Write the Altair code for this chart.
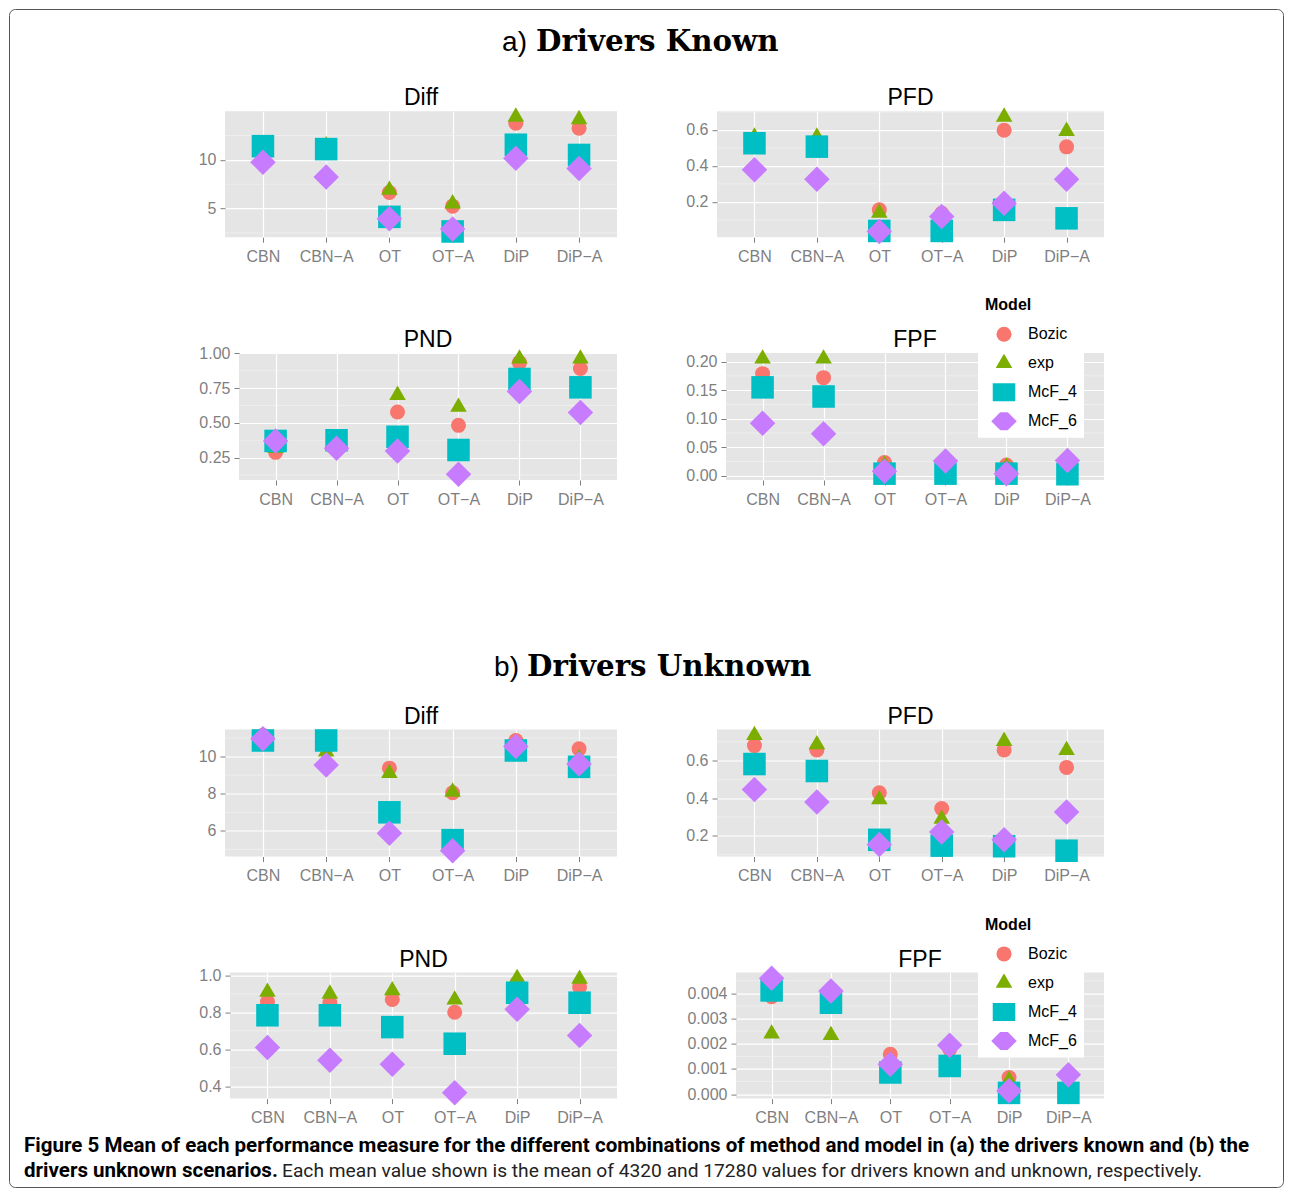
import altair as alt
import pandas as pd

METHODS = ["CBN", "CBN−A", "OT", "OT−A", "DiP", "DiP−A"]
MODELS = ["Bozic", "exp", "McF_4", "McF_6"]
COLORS = ["#F8766D", "#7CAE00", "#00BFC4", "#C77CFF"]
TRI = "M0,-1L0.866,0.5L-0.866,0.5Z"
SHAPES = ["circle", TRI, "square", "diamond"]
SIZES = [225, 650, 245, 324]

# ---- a) Drivers Known ----
A_DIFF = {
    "Bozic": [10.75, 10.75, 6.65, 5.25, 13.75, 13.25],
    "exp":   [11.5, 11.45, 6.9, 5.5, 14.4, 14.15],
    "McF_4": [11.4, 11.1, 4.15, 2.65, 11.55, 10.5],
    "McF_6": [9.75, 8.25, 3.95, 2.9, 10.15, 9.1],
}
A_PFD = {
    "Bozic": [0.525, 0.51, 0.156, 0.137, 0.598, 0.506],
    "exp":   [0.561, 0.561, 0.139, 0.107, 0.672, 0.593],
    "McF_4": [0.526, 0.507, 0.039, 0.039, 0.156, 0.109],
    "McF_6": [0.379, 0.326, 0.036, 0.119, 0.193, 0.326],
}
A_PND = {
    "Bozic": [0.288, 0.305, 0.578, 0.482, 0.932, 0.89],
    "exp":   [0.318, 0.318, 0.699, 0.614, 0.96, 0.96],
    "McF_4": [0.37, 0.375, 0.40, 0.305, 0.815, 0.755],
    "McF_6": [0.37, 0.318, 0.298, 0.131, 0.725, 0.575],
}
A_FPF = {
    "Bozic": [0.179, 0.172, 0.0235, 0.02, 0.019, 0.02],
    "exp":   [0.205, 0.205, 0.019, 0.012, 0.016, 0.009],
    "McF_4": [0.155, 0.139, 0.004, 0.004, 0.004, 0.003],
    "McF_6": [0.092, 0.074, 0.008, 0.026, 0.004, 0.027],
}
# ---- b) Drivers Unknown ----
B_DIFF = {
    "Bozic": [11.15, 10.9, 9.38, 8.05, 10.87, 10.42],
    "exp":   [10.64, 10.27, 9.1, 8.1, 10.1, 9.9],
    "McF_4": [10.87, 10.87, 7.0, 5.5, 10.33, 9.45],
    "McF_6": [10.96, 9.55, 5.87, 4.93, 10.55, 9.6],
}
B_PFD = {
    "Bozic": [0.68, 0.657, 0.429, 0.345, 0.657, 0.564],
    "exp":   [0.735, 0.686, 0.393, 0.29, 0.704, 0.655],
    "McF_4": [0.582, 0.545, 0.179, 0.148, 0.145, 0.121],
    "McF_6": [0.446, 0.38, 0.154, 0.22, 0.18, 0.327],
}
B_PND = {
    "Bozic": [0.857, 0.852, 0.87, 0.80, 0.96, 0.937],
    "exp":   [0.91, 0.90, 0.918, 0.868, 0.984, 0.98],
    "McF_4": [0.784, 0.784, 0.72, 0.63, 0.906, 0.852],
    "McF_6": [0.609, 0.54, 0.519, 0.364, 0.816, 0.675],
}
B_FPF = {
    "Bozic": [0.00387, 0.0035, 0.00158, 0.00178, 0.00066, 0.00079],
    "exp":   [0.0024, 0.00234, 0.00095, 0.00108, 0.00055, 0.00042],
    "McF_4": [0.00412, 0.00363, 0.00086, 0.00112, 0.00005, 0.00005],
    "McF_6": [0.0046, 0.0041, 0.00119, 0.00194, 0.00013, 0.00077],
}

DIFF_A_TICKS = [5, 10, 15]
DIFF_A_MINOR = [2.5, 7.5, 12.5]
PFD_TICKS = [0.2, 0.4, 0.6]
PFD_MINOR = [0.1, 0.3, 0.5, 0.7]
PND_A_TICKS = [0.25, 0.5, 0.75, 1.0]
PND_A_MINOR = [0.125, 0.375, 0.625, 0.875]
FPF_A_TICKS = [0.0, 0.05, 0.10, 0.15, 0.20]
FPF_A_MINOR = [0.025, 0.075, 0.125, 0.175]
DIFF_B_TICKS = [6, 8, 10]
DIFF_B_MINOR = [5, 7, 9, 11]
PND_B_TICKS = [0.4, 0.6, 0.8, 1.0]
PND_B_MINOR = [0.3, 0.5, 0.7, 0.9]
FPF_B_TICKS = [0.0, 0.001, 0.002, 0.003, 0.004]
FPF_B_MINOR = [0.0005, 0.0015, 0.0025, 0.0035, 0.0045]

TITLE_A = ["a)", "Drivers Known"]
TITLE_B = ["b)", "Drivers Unknown"]
CAPTION_1 = ("Figure 5 Mean of each performance measure for the different combinations "
             "of method and model in (a) the drivers known and (b) the")
CAPTION_2B = "drivers unknown scenarios."
CAPTION_2N = ("Each mean value shown is the mean of 4320 and 17280 values for drivers "
              "known and unknown, respectively.")
FRAME = ["frame"]
BLANK = [""]

SANS = "Liberation Sans"
GREY = "#7F7F7F"
FULL_W = 1262
LEFT_GAP = 122   # empty room left of the panel rows


def legend(y):
    return alt.Legend(
        orient="none", legendX=969, legendY=y, title="Model",
        fillColor="white", padding=7,
        titleFont=SANS, titleFontSize=16, titleFontWeight="bold", titleColor="black",
        titlePadding=12.4,
        labelFont=SANS, labelFontSize=16, labelColor="black", labelOffset=11,
        symbolOffset=6, rowPadding=11, clipHeight=18,
        symbolStrokeWidth=0, symbolOpacity=1,
    )


def text_layer(text, x, y, align, font, size, weight, color="black"):
    return alt.Chart(pd.DataFrame({"t": [text]})).mark_text(
        align=align, baseline="alphabetic", font=font, fontSize=size,
        fontWeight=weight, color=color,
    ).encode(text="t:N", x=alt.value(x), y=alt.value(y))


def panel(title, values, ticks, minor, fmt, width, height, extent, leg):
    rows = []
    for m in MODELS:
        for meth, v in zip(METHODS, values[m]):
            rows.append({"Method": meth, "Model": m, "value": v})
    df = pd.DataFrame(rows)
    lo, hi = df["value"].min(), df["value"].max()
    pad = 0.05 * (hi - lo)
    dom = [lo - pad, hi + pad]
    minor_df = pd.DataFrame({"value": [t for t in minor if dom[0] < t < dom[1]]})
    yscale = alt.Scale(domain=dom, nice=False, zero=False)
    yaxis = alt.Axis(title=None, values=ticks, format=fmt, labelFont=SANS,
                     labelFontSize=16, labelColor=GREY, tickColor=GREY,
                     tickSize=5, tickWidth=1, labelPadding=4, domain=False,
                     grid=True, gridColor="white", gridWidth=1.2,
                     minExtent=extent, maxExtent=extent)

    rules = alt.Chart(minor_df).mark_rule(color="#F2F2F2", strokeWidth=0.7).encode(
        y=alt.Y("value:Q", scale=yscale, axis=yaxis)
    )
    pts = alt.Chart(df).mark_point(filled=True, opacity=1, strokeWidth=0).encode(
        x=alt.X("Method:N", sort=METHODS,
                scale=alt.Scale(type="point", padding=0.6, domain=METHODS),
                axis=alt.Axis(title=None, labelAngle=0, labelFont=SANS, labelFontSize=16,
                              labelColor=GREY, tickColor=GREY, tickSize=5, tickWidth=1,
                              labelPadding=6, domain=False, grid=True, gridColor="white",
                              gridWidth=1.2, minExtent=30, maxExtent=30)),
        y=alt.Y("value:Q", scale=yscale, axis=yaxis),
        color=alt.Color("Model:N", scale=alt.Scale(domain=MODELS, range=COLORS), legend=leg),
        shape=alt.Shape("Model:N", scale=alt.Scale(domain=MODELS, range=SHAPES), legend=leg),
        size=alt.Size("Model:N", scale=alt.Scale(domain=MODELS, range=SIZES), legend=leg),
    )
    head = text_layer(title, width / 2, -6, "center", SANS, 23, "normal")
    return alt.layer(rules, pts, head).properties(
        width=width, height=height,
        view=alt.ViewBackground(fill="#E5E5E5", strokeWidth=0),
    )


def spacer():
    return alt.Chart(pd.DataFrame({"t": BLANK})).mark_text().encode(
        text="t:N").properties(width=LEFT_GAP, height=1)


def row(left, right):
    return alt.hconcat(spacer(), left, right, spacing=64)


def section_title(parts, height, base_y, x_right, x_left):
    return alt.layer(
        text_layer(parts[0], x_right, base_y, "right", SANS, 28, "normal"),
        text_layer(parts[1], x_left, base_y, "left", "DejaVu Serif", 29.3, "bold"),
    ).properties(width=FULL_W, height=height)


# ---- section a ----
legA = legend(280.8)
a_diff = panel("Diff", A_DIFF, DIFF_A_TICKS, DIFF_A_MINOR, "d", 392, 126, 30, legA)
a_pfd = panel("PFD", A_PFD, PFD_TICKS, PFD_MINOR, ".1f", 387, 126, 35, legA)
a_pnd = panel("PND", A_PND, PND_A_TICKS, PND_A_MINOR, ".2f", 378, 127, 44, legA)
a_fpf = panel("FPF", A_FPF, FPF_A_TICKS, FPF_A_MINOR, ".2f", 378, 127, 44, legA)
rowsA = alt.vconcat(row(a_diff, a_pfd), row(a_pnd, a_fpf), spacing=61.8)
secA = alt.vconcat(section_title(TITLE_A, 52, 42, 518, 527), rowsA, spacing=26.2)

# ---- section b ----
legB = legend(399.5)
b_diff = panel("Diff", B_DIFF, DIFF_B_TICKS, DIFF_B_MINOR, "d", 392, 127, 30, legB)
b_pfd = panel("PFD", B_PFD, PFD_TICKS, PFD_MINOR, ".1f", 387, 127, 35, legB)
b_pnd = panel("PND", B_PND, PND_B_TICKS, PND_B_MINOR, ".1f", 387, 126, 35, legB)
b_fpf = panel("FPF", B_FPF, FPF_B_TICKS, FPF_B_MINOR, ".3f", 368, 126, 54, legB)
rowsB = alt.vconcat(row(b_diff, b_pfd), row(b_pnd, b_fpf), spacing=62.1)
secB = alt.vconcat(section_title(TITLE_B, 174, 166, 510, 518), rowsB, spacing=21.5)

# ---- caption (the figure frame is drawn as an empty legend box) ----
frame = alt.Chart(pd.DataFrame({"k": FRAME})).mark_text(text="", color="white").encode(
    x=alt.value(0), y=alt.value(0),
    opacity=alt.Opacity(
        "k:N", scale=alt.Scale(domain=FRAME, range=[0]),
        legend=alt.Legend(orient="none", legendX=0, legendY=0, title=None,
                          padding=583.75, strokeColor="#555555", cornerRadius=6,
                          labelExpr="''", symbolSize=64, labelFontSize=10,
                          labelOffset=96, symbolOpacity=0, symbolType="M0,0Z",
                          symbolFillColor="white",
                          symbolStrokeColor="white"),
    ),
)
caption = alt.layer(
    text_layer(CAPTION_1, 15, 16.6, "left", "Roboto", 20.55, "bold"),
    text_layer(CAPTION_2B, 15, 42.3, "left", "Roboto", 20.55, "bold"),
    text_layer(CAPTION_2N, 273, 42.3, "left", "Roboto", 19.2, "normal", "#222222"),
    frame,
).properties(width=FULL_W, height=50)

chart = alt.vconcat(secA, secB, caption, spacing=0).resolve_scale(
    color="independent", shape="independent", size="independent"
).properties(padding=0, background="white").configure_view(strokeWidth=0)

chart.save("out.html", embed_options={"renderer": "svg", "actions": False})
